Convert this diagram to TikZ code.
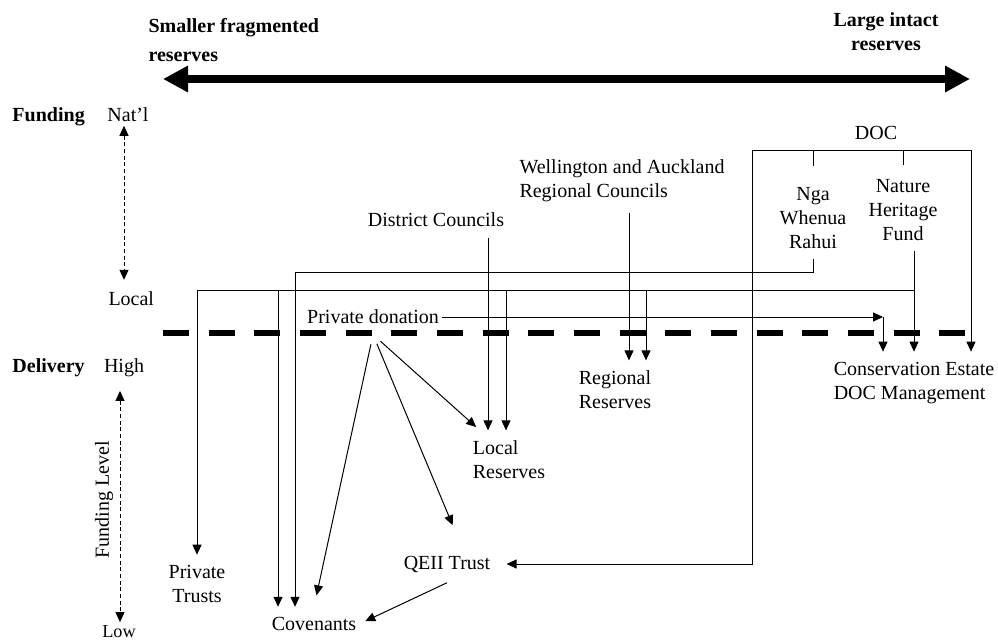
\documentclass[12pt,tikz,border=0pt]{standalone}
\usepackage{fontspec}
\setmainfont{Liberation Serif}
\usepackage{tikz}
\usetikzlibrary{arrows.meta, positioning}

\begin{document}
\begin{tikzpicture}[x=0.6pt, y=-0.6pt, line width=0.6pt,
	lbl/.style={align=center, inner xsep=1.5pt, inner ysep=6pt},
	head/.style={font=\bfseries, inner sep=0pt},
	axis/.style={inner sep=0pt},
	arr/.style={-{Triangle[length=6pt,width=5.4pt]}},
	lvl/.style={{Triangle[length=6pt,width=5.4pt]}-{Triangle[length=6pt,width=5.4pt]}, dash pattern=on 2.4pt off 1.6pt},
	big/.style={line width=4.8pt, {Triangle[length=15pt,width=15pt]}-{Triangle[length=15pt,width=15pt]}},
	divider/.style={line width=3.6pt, dash pattern=on 15.6pt off 11.8pt}]
			\useasboundingbox (0,0) rectangle (998,641);
			% size scale
			\node[head, anchor=west, align=left] (small) at (148,40) {Smaller fragmented\\[3pt]reserves};
			\node[head, align=center] (large) at (886,32) {Large intact\\reserves};
			\coordinate (gl) at (163,79);
			\coordinate (gr) at (970,79);
			\draw[big] (gl) -- (gr);
			
			% funding and delivery axes
			\node[head, anchor=west] (fund) at (12,117) {Funding};
			\node[axis, base right=13pt of fund] (natl) {Nat’l};
			\node[axis, anchor=west] (local) at (108,299) {Local};
			\node[head, anchor=west] (deliv) at (12,368) {Delivery};
			\node[axis, base right=11pt of deliv] (high) {High};
			\node[axis, font=\small] (low) at (119,632) {Low};
			\node[axis, rotate=90] (flev) at (104,500) {Funding Level};
			\coordinate (fx) at (124,0);
			\coordinate (dx) at (120,0);
			\draw[lvl, shorten <=2pt, shorten >=7pt] (natl.south -| fx) -- (local.north -| fx);
			\draw[lvl, shorten <=8pt, shorten >=2pt] (high.south -| dx) -- (low.north -| dx);
			\draw[divider] (163,333) -- (970,333);
			
			% funders
			\node[lbl] (doc) at (876,133) {DOC};
			\node[lbl] (nwr) at (813,218) {Nga\\Whenua\\Rahui};
			\node[lbl] (nhf) at (903,210) {Nature\\Heritage\\Fund};
			\node[lbl, align=left] (wac) at (622,181) {Wellington and Auckland\\Regional Councils};
			\node[lbl] (dc) at (436,220) {District Councils};
			\node[lbl] (pd) at (373,317) {Private donation};
			
			% delivery
			\node[lbl, align=left] (rr) at (615,390) {Regional\\Reserves};
			\node[lbl, align=left] (lr) at (509,460) {Local\\Reserves};
			\node[lbl, align=left] (ce) at (914,383) {Conservation Estate\\DOC Management};
			\node[lbl] (qe) at (447,564) {QEII Trust};
			\node[lbl] (pt) at (197,584) {Private\\Trusts};
			\node[lbl] (cov) at (314,624) {Covenants};
			
			\coordinate (docL) at (752,150);
			\coordinate (docR) at (971,150);
			\coordinate (jA) at (295,272);
			\coordinate (jB) at (278,290);
			\coordinate (jL) at (506,290);
			\coordinate (jR) at (646,290);
			\coordinate (jD) at (488,290);
			\coordinate (jW) at (629,290);
			\coordinate (pdc) at (883,317);
			
			\draw (docL) -- (docR)
			(nwr.north |- docL) edge[shorten >=6.5pt] (nwr.north)
			(nhf.north |- docL) edge[shorten >=2pt] (nhf.north);
			\draw[arr, shorten >=8pt] (docL) |- (qe.east);
			\draw[arr] (docR) -- (docR |- ce.north);
			\draw[arr] (nwr.south) |- (jA) -- (jA |- cov.north);
			\draw[arr] (nhf.south -| ce.north) -- (ce.north);
			\draw[arr] (jB -| ce.north) -| (pt.north);
			\path[every edge/.append style={arr}]
			(jB) edge (jB |- cov.north)
			(jL) edge (jL |- lr.north)
			(jR) edge (jR |- rr.north)
			(dc.south -| jD) edge (jD |- lr.north)
			(wac.south -| jW) edge (jW |- rr.north)
			(pd.east) edge (pdc)
			(pdc) edge (pdc |- ce.north)
			(pd.south) edge[shorten <=6pt, shorten >=7pt] (cov.north)
			(pd.south) edge[shorten <=6pt, shorten >=13pt] ([xshift=8.4pt]qe.north)
			(pd.south) edge[shorten <=6pt, shorten >=3pt] ([xshift=6pt]lr.north west)
			(qe.south) edge[shorten >=4pt] (cov.east);
		\end{tikzpicture}
\end{document}
